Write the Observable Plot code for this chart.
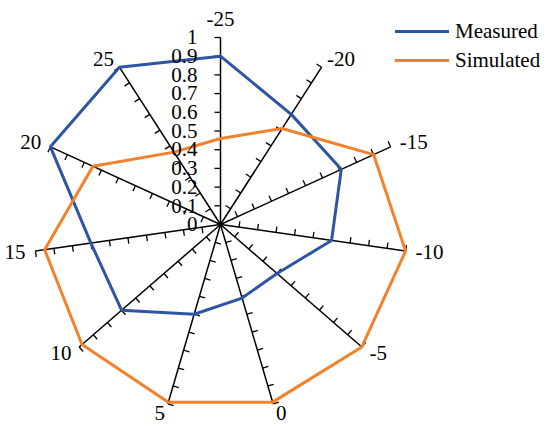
<!DOCTYPE html>
<html>
<head>
<meta charset="utf-8">
<script src="https://cdn.jsdelivr.net/npm/d3@7"></script>
<script src="https://cdn.jsdelivr.net/npm/@observablehq/plot@0.6"></script>
<style>
  html, body { margin: 0; padding: 0; background: #fff; }
  #wrap { position: relative; width: 550px; height: 428px; font-family: "Liberation Serif", "Times New Roman", serif; }
  #legend { position: absolute; left: 395px; top: 17px; font-size: 21px; line-height: 29px; color: #000; }
  #legend .row { display: flex; align-items: center; height: 29px; }
  #legend .sw { width: 54px; height: 3px; margin-right: 6px; }
</style>
</head>
<body>
<div id="wrap"></div>
<script>
const categories = ["-25", "-20", "-15", "-10", "-5", "0", "5", "10", "15", "20", "25"];
const measured  = [0.90, 0.70, 0.71, 0.60, 0.40, 0.41, 0.50, 0.70, 0.70, 1.00, 1.00];
const simulated = [0.46, 0.61, 0.90, 1.00, 1.00, 0.99, 0.99, 0.98, 0.95, 0.75, 0.46];
const seriesNames = ["Measured", "Simulated"];
const seriesColors = ["#2E55A3", "#F4812A"];
const tickValues = [0, 0.1, 0.2, 0.3, 0.4, 0.5, 0.6, 0.7, 0.8, 0.9, 1];
const tickLabels = ["0", "0.1", "0.2", "0.3", "0.4", "0.5", "0.6", "0.7", "0.8", "0.9", "1"];

const W = 550, H = 428;
const R = 187;            // pixels per unit radius
const CX = 220, CY = 224; // centre in pixels
const n = categories.length;
const angle = i => (2 * Math.PI * i) / n;
const px = u => u / R;    // pixel length in data units

const pt = (i, r) => ({x: r * Math.sin(angle(i)), y: r * Math.cos(angle(i))});

// spokes
const spokes = categories.map((c, i) => ({c, x1: 0, y1: 0, x2: pt(i, 1).x, y2: pt(i, 1).y}));

// ticks (perpendicular marks)
const ticks = [];
categories.forEach((c, i) => {
  const a = angle(i);
  const tx = -Math.cos(a), ty = Math.sin(a);
  tickValues.filter(v => v > 0).forEach(v => {
    const p = pt(i, v);
    ticks.push({x1: p.x, y1: p.y, x2: p.x + tx * px(6), y2: p.y + ty * px(6)});
  });
});

// series
const seriesData = [];
[measured, simulated].forEach((vals, s) => {
  vals.concat([vals[0]]).forEach((v, k) => {
    const i = k % n;
    const p = pt(i, v);
    seriesData.push({series: seriesNames[s], cat: categories[i], value: v, x: p.x, y: p.y, order: k});
  });
});

// category labels
const pad = px(10);
const labels = categories.map((c, i) => {
  const a = angle(i);
  const p = pt(i, 1 + pad);
  const s = Math.sin(a);
  return {c, x: p.x, y: p.y, anchor: s > 0.2 ? "start" : s < -0.2 ? "end" : "middle", top: Math.cos(a) > 0.9};
});

const valueLabels = tickValues.map((v, k) => ({v, t: tickLabels[k]}));

const plot = Plot.plot({
  width: W,
  height: H,
  marginTop: 0, marginRight: 0, marginBottom: 0, marginLeft: 0,
  x: {domain: [-CX / R, (W - CX) / R], axis: null},
  y: {domain: [-(H - CY) / R, CY / R], axis: null},
  style: {fontFamily: "Liberation Serif, Times New Roman, serif", fontSize: "21px", background: "#fff", overflow: "visible"},
  marks: [
    Plot.link(spokes, {x1: "x1", y1: "y1", x2: "x2", y2: "y2", stroke: "#000", strokeWidth: 1.5}),
    Plot.link(ticks, {x1: "x1", y1: "y1", x2: "x2", y2: "y2", stroke: "#000", strokeWidth: 1.3}),
    Plot.line(seriesData.filter(d => d.series === "Measured"), {x: "x", y: "y", stroke: seriesColors[0], strokeWidth: 3, strokeLinejoin: "miter", curve: "linear"}),
    Plot.line(seriesData.filter(d => d.series === "Simulated"), {x: "x", y: "y", stroke: seriesColors[1], strokeWidth: 3, strokeLinejoin: "miter", curve: "linear"}),
    Plot.text(valueLabels, {x: () => 0, y: "v", text: "t", textAnchor: "end", dx: -23, fill: "#000"}),
    Plot.text(labels.filter(d => d.anchor === "start"), {x: "x", y: "y", text: "c", textAnchor: "start", fill: "#000"}),
    Plot.text(labels.filter(d => d.anchor === "end"), {x: "x", y: "y", text: "c", textAnchor: "end", fill: "#000"}),
    Plot.text(labels.filter(d => d.anchor === "middle" && d.top), {x: "x", y: "y", text: "c", textAnchor: "middle", lineAnchor: "bottom", dy: -2, fill: "#000"}),
    Plot.text(labels.filter(d => d.anchor === "middle" && !d.top), {x: "x", y: "y", text: "c", textAnchor: "middle", lineAnchor: "top", fill: "#000"})
  ]
});

const wrap = document.getElementById("wrap");
wrap.appendChild(plot);

const legend = document.createElement("div");
legend.id = "legend";
seriesNames.forEach((name, s) => {
  const row = document.createElement("div");
  row.className = "row";
  const sw = document.createElement("div");
  sw.className = "sw";
  sw.style.background = seriesColors[s];
  const t = document.createElement("span");
  t.textContent = name;
  row.appendChild(sw);
  row.appendChild(t);
  legend.appendChild(row);
});
wrap.appendChild(legend);
</script>
</body>
</html>
